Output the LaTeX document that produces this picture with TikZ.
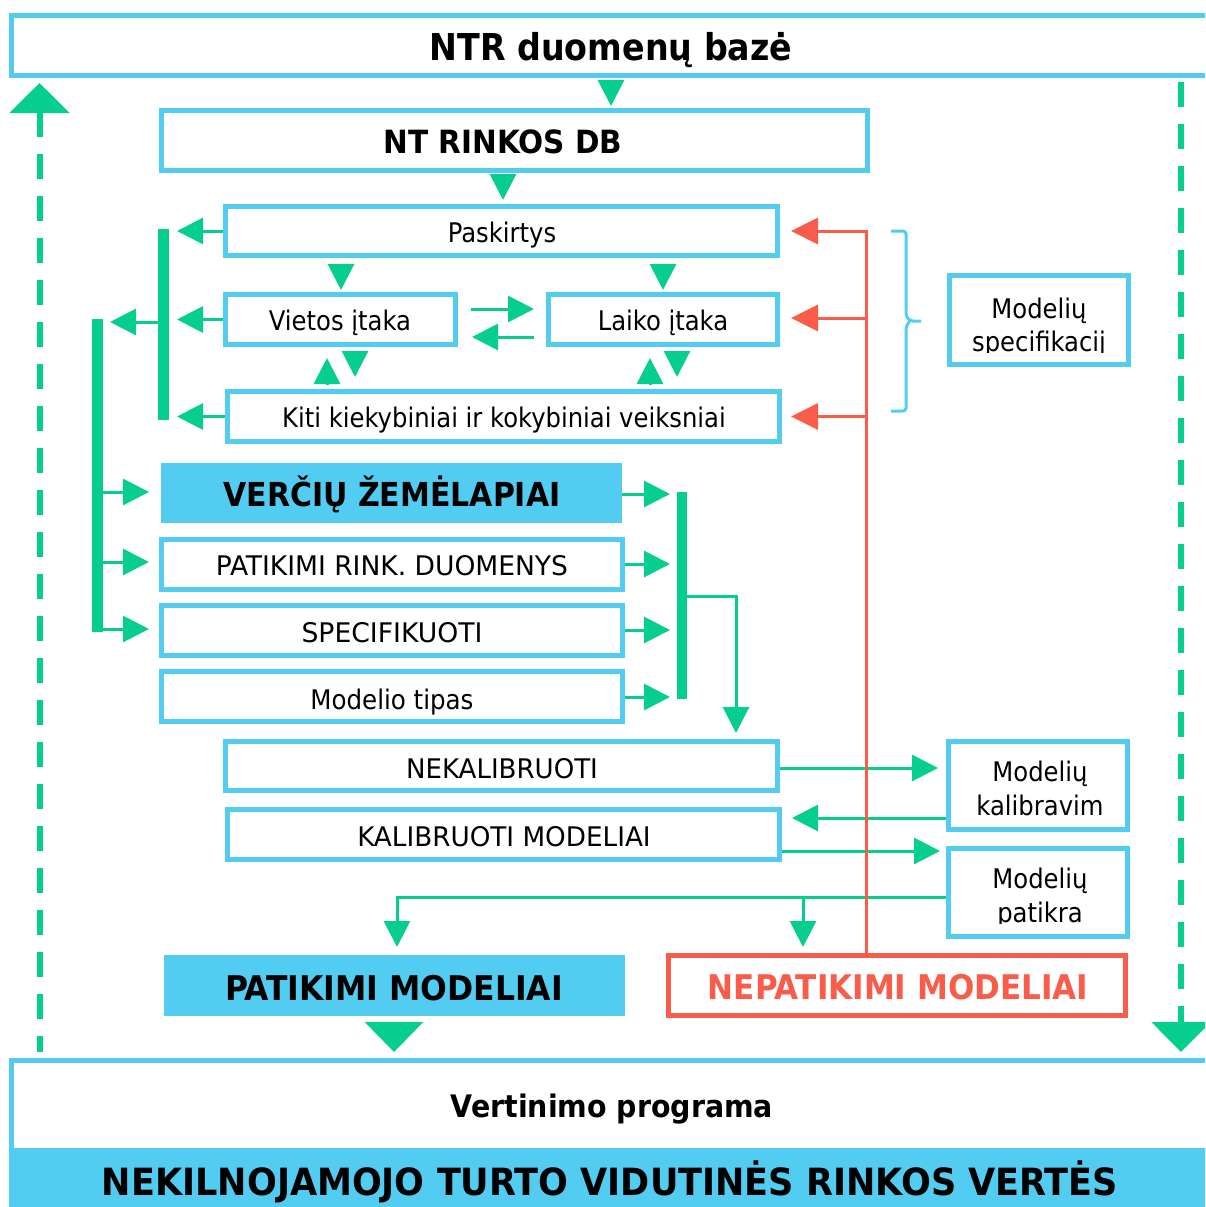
\documentclass[tikz,border=0pt]{standalone}
\usepackage{fontspec}
\setmainfont{DejaVu Sans Condensed}
\usetikzlibrary{arrows.meta}
\definecolor{cblue}{RGB}{83,204,242}
\definecolor{cgreen}{RGB}{5,206,142}
\definecolor{cred}{RGB}{249,93,74}
\tikzset{
 box/.style={draw=cblue, line width=5pt, outer sep=2.5pt, inner sep=0pt, fill=white},
 rbox/.style={draw=cred, line width=5pt, outer sep=2.5pt, inner sep=0pt, fill=white},
 fbox/.style={fill=cblue, inner sep=0pt, outer sep=0pt},
 bar/.style={fill=cgreen, inner sep=0pt, outer sep=0pt},
 tn/.style={inner sep=0pt, text depth=0pt, text height=19.7pt, font=\fontsize{27}{33}\selectfont\addfontfeature{FakeStretch=#1}},
 tn/.default=1,
 tb/.style n args={3}{inner sep=0pt, text depth=0pt, text height=#2, font=\fontsize{#1}{#1}\selectfont\bfseries\addfontfeature{FakeStretch=#3}},
 garr/.style={draw=cgreen, line width=3pt, -{Triangle[length=26pt,width=26pt]}},
 tri/.style={draw=cgreen, line width=3pt, -{Triangle[length=26pt,width=26pt]}},
 bigtri/.style={draw=cgreen, line width=3pt, -{Triangle[length=30pt,width=58pt]}},
 rarr/.style={draw=cred, line width=3pt, -{Triangle[length=27pt,width=26pt]}},
 dashln/.style={draw=cgreen, line width=6pt, dash pattern=on 25pt off 17pt},
}
\begin{document}
\begin{tikzpicture}[x=1pt,y=-1pt]
\useasboundingbox (0,0) rectangle (1205,1207);
\clip (0,0) rectangle (1205,1207);
% ---------- boxes ----------
\node[box, minimum width=1200, minimum height=60] (ntr) at (611,45.5) {};
\node[box, minimum width=706, minimum height=60] (ntrdb) at (514.5,140.5) {};
\node[box, minimum width=552, minimum height=49] (pask) at (501.5,231) {};
\node[box, minimum width=230.5, minimum height=50] (vietos) at (340.25,319.5) {};
\node[box, minimum width=229, minimum height=50] (laiko) at (663,319.5) {};
\node[box, minimum width=551.5, minimum height=50] (kiti) at (503.25,416.5) {};
\node[box, minimum width=179, minimum height=89] (spec) at (1039,320) {};
\node[fbox, minimum width=461, minimum height=60] (verciu) at (391.5,493) {};
\node[box, minimum width=461, minimum height=50] (patrd) at (392,564) {};
\node[box, minimum width=461, minimum height=50] (specif) at (392,630.5) {};
\node[box, minimum width=461, minimum height=50] (tipas) at (392,696.5) {};
\node[box, minimum width=552, minimum height=49] (nekal) at (501.5,766) {};
\node[box, minimum width=552, minimum height=50] (kal) at (503.5,834.5) {};
\node[box, minimum width=178.5, minimum height=88] (kalib) at (1037.75,785.5) {};
\node[box, minimum width=178.5, minimum height=88] (patikra) at (1037.75,892.5) {};
\node[fbox, minimum width=461, minimum height=61] (patmod) at (394.5,985.5) {};
\node[rbox, minimum width=457.5, minimum height=60] (nepat) at (896.75,985.5) {};
\node[box, minimum width=1200, minimum height=154.5] (prog) at (611,1137.75) {};
\fill[cblue] (8.5,1148) rectangle (1215,1215);
% bars
\node[bar, minimum width=11, minimum height=191] (bar1) at (163.5,324.5) {};
\node[bar, minimum width=11, minimum height=313] (bar2) at (97.5,475.5) {};
\node[bar, minimum width=10, minimum height=207] (bar3) at (682,595.5) {};
% ---------- texts ----------
\node[tb={37}{27pt}{1}] (t-ntr) at (611,46.5) {NTR duomenų bazė};
\node[tb={32}{23.3pt}{1.026}] (t-ntrdb) at (503,142) {NT RINKOS DB};
\node[tn] (t-pask) at (502,233) {Paskirtys};
\node[tn] (t-vietos) at (340,321) {Vietos įtaka};
\node[tn] (t-laiko) at (663,321) {Laiko įtaka};
\node[tn] (t-kiti) at (504,418) {Kiti kiekybiniai ir kokybiniai veiksniai};
\begin{scope}
\clip (952,278) rectangle (1126,352);
\node[tn, anchor=south] (t-spec1) at (1039,318.5) {Modelių};
\node[tn, anchor=south] (t-spec2) at (1039,351.5) {specifikacij};
\end{scope}
\node[tb={33}{24pt}{1.01}] (t-verciu) at (392,494) {VERČIŲ ŽEMĖLAPIAI};
\node[tn=1.093] (t-patrd) at (392,566) {PATIKIMI RINK. DUOMENYS};
\node[tn=1.098] (t-specif) at (392,633) {SPECIFIKUOTI};
\node[tn=1.01] (t-tipas) at (392,700) {Modelio tipas};
\node[tn=1.073] (t-nekal) at (502,769) {NEKALIBRUOTI};
\node[tn=1.081] (t-kal) at (504,836.7) {KALIBRUOTI MODELIAI};
\node[tn, anchor=south] (t-kalib1) at (1040,781.7) {Modelių};
\node[tn, anchor=south] (t-kalib2) at (1040,816) {kalibravim};
\begin{scope}
\clip (951,851) rectangle (1124,923);
\node[tn, anchor=south] (t-pat1) at (1040,888.3) {Modelių};
\node[tn, anchor=south] (t-pat2) at (1040,922.5) {patikra};
\end{scope}
\node[tb={34}{24.8pt}{1.028}] (t-patmod) at (394,987.7) {PATIKIMI MODELIAI};
\node[tb={34}{24.8pt}{1.013}, text=cred] (t-nepat) at (898,987) {NEPATIKIMI MODELIAI};
\node[tb={31}{22.6pt}{1.019}] (t-prog) at (612,1106.5) {Vertinimo programa};
\node[tb={37.5}{27.3pt}{1.04}] (t-vert) at (610,1181.7) {NEKILNOJAMOJO TURTO VIDUTINĖS RINKOS VERTĖS};
% ---------- connectors ----------
\draw[tri] (611,80) -- (611,106);
\draw[tri] (503,174) -- (503,200);
\draw[tri] (341,264) -- (341,290);
\draw[tri] (663,264) -- (663,290);
\draw[tri] (327,385) -- (327,358);
\draw[tri] (355,352) -- (355,377);
\draw[tri] (650,385) -- (650,358);
\draw[tri] (677,352) -- (677,377);
\draw[garr] (pask.west) -- (177,231);
\draw[garr] (vietos.west) -- (177,319.5);
\draw[garr] (kiti.west) -- (177,416.5);
\draw[garr] (bar1.west |- 0,322) -- (110,322);
\draw[garr] (bar2.east |- 0,492) -- (149,492);
\draw[garr] (bar2.east |- 0,562) -- (149,562);
\draw[garr] (bar2.east |- 0,629) -- (149,629);
\draw[garr] (471,309) -- (534,309);
\draw[garr] (534,337) -- (472,337);
% brace
\draw[cblue, line width=3pt, rounded corners=3pt] (891,231) -- (906,231) -- (906,316) -- (910,321) -- (921,321);
\draw[cblue, line width=3pt, rounded corners=3pt] (910,321) -- (906,326) -- (906,411) -- (891,411);
% to bar3
\draw[garr] (verciu.east |- 0,494) -- (670,494);
\draw[garr] (patrd.east |- 0,564) -- (670,564);
\draw[garr] (specif.east |- 0,630) -- (670,630);
\draw[garr] (tipas.east |- 0,697) -- (670,697);
\draw[garr] (bar3.east |- 0,596) -| (736,733);
% calibration loop
\draw[garr] (nekal.east |- 0,768) -- (938,768);
\draw[garr] (kalib.west |- 0,818) -- (792,818);
\draw[garr] (kal.east |- 0,851) -- (940,851);
\draw[garr] (patikra.west |- 0,897) -| (397,947);
\draw[garr] (803,897) -- (803,947);
\draw[bigtri] (394,1022) -- (394,1052);
% red feedback (on top)
\draw[cred, line width=3pt] (nepat.north -| 866,0) -- (866,229.5);
\draw[rarr] (867.5,231) -- (791,231);
\draw[rarr] (866,318) -- (791,318);
\draw[rarr] (866,416.5) -- (791,416.5);
% dashed feedback lines
\draw[dashln, {Triangle[length=30pt,width=59pt]}-] (39.5,83) -- (39.5,1052);
\draw[dashln, -{Triangle[length=30pt,width=58pt]}] (1181,82) -- (1181,1052);
\end{tikzpicture}
\end{document}
